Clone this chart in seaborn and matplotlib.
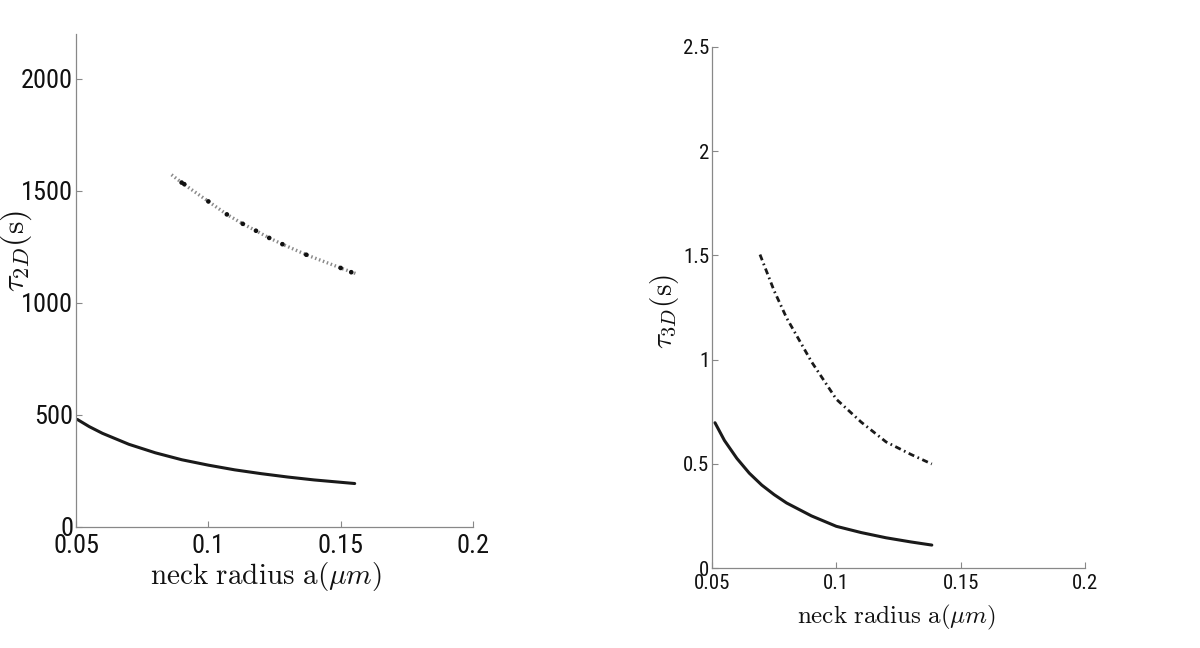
import matplotlib
matplotlib.use("Agg")
import matplotlib.pyplot as plt
import seaborn as sns

# ---- data ----
# Left panel: tau_2D (s) vs neck radius a (um)
a2_solid = [0.0505, 0.055, 0.06, 0.07, 0.08, 0.09, 0.10, 0.11, 0.12, 0.13, 0.14, 0.1553]
t2_solid = [480, 448, 418, 369, 331, 300, 276, 255, 238, 223, 210, 194]
a2_dot = [0.0861, 0.09, 0.10, 0.107, 0.113, 0.118, 0.123, 0.128, 0.137, 0.15, 0.1557]
t2_dot = [1572, 1536, 1453, 1395, 1353, 1322, 1290, 1262, 1215, 1156, 1131]
a2_marks = [0.0899, 0.0909, 0.10, 0.107, 0.113, 0.118, 0.123, 0.128, 0.137, 0.15, 0.154]
t2_marks = [1537, 1530, 1453, 1395, 1353, 1322, 1290, 1262, 1215, 1156, 1137]

# Right panel: tau_3D (s) vs neck radius a (um)
a3_solid = [0.0512, 0.055, 0.06, 0.065, 0.07, 0.075, 0.08, 0.09, 0.10, 0.11, 0.12, 0.13, 0.1384]
t3_solid = [0.697, 0.612, 0.526, 0.455, 0.398, 0.352, 0.312, 0.250, 0.200, 0.170, 0.145, 0.125, 0.110]
a3_dash = [0.0693, 0.075, 0.08, 0.09, 0.10, 0.11, 0.12, 0.13, 0.1384]
t3_dash = [1.504, 1.33, 1.20, 0.99, 0.81, 0.70, 0.605, 0.545, 0.499]

xticks = [0.05, 0.1, 0.15, 0.2]
xticklabels = ["0.05", "0.1", "0.15", "0.2"]
yticks2 = [0, 500, 1000, 1500, 2000]
yticklabels2 = ["0", "500", "1000", "1500", "2000"]
yticks3 = [0, 0.5, 1, 1.5, 2, 2.5]
yticklabels3 = ["0", "0.5", "1", "1.5", "2", "2.5"]

sns.set_theme(style="white")
plt.rcParams["font.family"] = ["Roboto Condensed", "Liberation Sans Narrow", "Lato", "DejaVu Sans"]
plt.rcParams["mathtext.fontset"] = "cm"

fig = plt.figure(figsize=(12, 6.48), dpi=100)
ax1 = fig.add_axes([76 / 1200, 1 - 527 / 648, 397 / 1200, 493 / 648])
ax2 = fig.add_axes([712 / 1200, 1 - 568 / 648, 373 / 1200, 521 / 648])

# Left panel
sns.lineplot(x=a2_solid, y=t2_solid, ax=ax1, color="#1a1a1a", lw=2.2, sort=False)
sns.lineplot(x=a2_dot, y=t2_dot, ax=ax1, color="#8a8a8a", lw=2.4,
             linestyle=(0, (0.45, 0.8)), sort=False)
sns.scatterplot(x=a2_marks, y=t2_marks, ax=ax1, color="#111111", s=11,
                edgecolor="none", zorder=5)

# Right panel
sns.lineplot(x=a3_solid, y=t3_solid, ax=ax2, color="#1a1a1a", lw=2.2, sort=False)
sns.lineplot(x=a3_dash, y=t3_dash, ax=ax2, color="#1a1a1a", lw=2.0,
             linestyle=(0, (2.2, 1.3, 0.6, 1.3)), sort=False)

def style(ax, yticks, yticklabels, ylim, fs_tick, pad_x):
    ax.set_xlim(0.05, 0.2)
    ax.set_ylim(*ylim)
    ax.set_xticks(xticks)
    ax.set_xticklabels(xticklabels)
    ax.set_yticks(yticks)
    ax.set_yticklabels(yticklabels)
    for s in ["top", "right"]:
        ax.spines[s].set_visible(False)
    for s in ["left", "bottom"]:
        ax.spines[s].set_color("#888888")
        ax.spines[s].set_linewidth(0.9)
    ax.tick_params(axis="both", direction="in", length=4, width=0.8,
                   color="#888888", labelsize=fs_tick, labelcolor="#111111",
                   left=True, bottom=True, pad=2)
    ax.tick_params(axis="x", pad=pad_x)
    ax.grid(False)

style(ax1, yticks2, yticklabels2, (0, 2200), 19, 5)
style(ax2, yticks3, yticklabels3, (0, 2.5), 15, 4)

ax1.set_xlabel(r"$\mathrm{neck\ radius\ a}(\mu m)$", fontsize=21, color="#111111")
ax1.xaxis.set_label_coords(0.479, -0.067)
ax1.set_ylabel(r"$\tau_{2D}(\mathrm{s})$", fontsize=23, color="#111111")
ax1.yaxis.set_label_coords(-0.105, 0.56)

ax2.set_xlabel(r"$\mathrm{neck\ radius\ a}(\mu m)$", fontsize=18, color="#111111")
ax2.xaxis.set_label_coords(0.496, -0.067)
ax2.set_ylabel(r"$\tau_{3D}(\mathrm{s})$", fontsize=21, color="#111111")
ax2.yaxis.set_label_coords(-0.083, 0.493)

fig.savefig("out.png", dpi=100, facecolor="white")
